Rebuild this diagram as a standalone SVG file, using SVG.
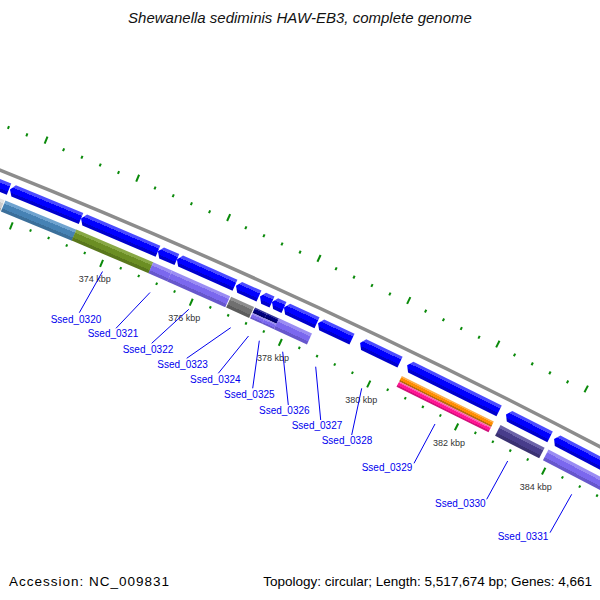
<svg xmlns="http://www.w3.org/2000/svg" xmlns:xlink="http://www.w3.org/1999/xlink" width="600" height="600" viewBox="0 0 600 600">
<style>
.cds{fill:url(#gBlue)}
.gl{font-family:"Liberation Sans",Arial,sans-serif;font-size:10px;fill:#0000ee}
.kb{font-family:"Liberation Sans",Arial,sans-serif;font-size:9px;fill:#333;text-anchor:middle}
.ticks{stroke:#0a8a0a;stroke-width:2;fill:none}
.conn line{stroke:#0000ee;stroke-width:1}
.info{font-family:"Liberation Sans",Arial,sans-serif;font-size:13.5px;fill:#000}
</style>
<defs>
<linearGradient id="gBlue" x1="0" y1="0" x2="0" y2="1"><stop offset="0" stop-color="#4a4aff"/><stop offset="0.28" stop-color="#4a4aff"/><stop offset="0.28" stop-color="#0000ff"/><stop offset="0.72" stop-color="#0000ff"/><stop offset="0.72" stop-color="#0000cc"/><stop offset="1" stop-color="#0000cc"/></linearGradient>
<linearGradient id="gLGray" x1="0" y1="0" x2="0" y2="1"><stop offset="0" stop-color="#e4e4e4"/><stop offset="0.28" stop-color="#e4e4e4"/><stop offset="0.28" stop-color="#cccccc"/><stop offset="0.72" stop-color="#cccccc"/><stop offset="0.72" stop-color="#aaaaaa"/><stop offset="1" stop-color="#aaaaaa"/></linearGradient>
<linearGradient id="gSteel" x1="0" y1="0" x2="0" y2="1"><stop offset="0" stop-color="#6fa3cf"/><stop offset="0.28" stop-color="#6fa3cf"/><stop offset="0.28" stop-color="#4682b4"/><stop offset="0.72" stop-color="#4682b4"/><stop offset="0.72" stop-color="#3b6f9a"/><stop offset="1" stop-color="#3b6f9a"/></linearGradient>
<linearGradient id="gOlive" x1="0" y1="0" x2="0" y2="1"><stop offset="0" stop-color="#88a845"/><stop offset="0.28" stop-color="#88a845"/><stop offset="0.28" stop-color="#6b8e23"/><stop offset="0.72" stop-color="#6b8e23"/><stop offset="0.72" stop-color="#59771c"/><stop offset="1" stop-color="#59771c"/></linearGradient>
<linearGradient id="gPurple" x1="0" y1="0" x2="0" y2="1"><stop offset="0" stop-color="#9a8cf3"/><stop offset="0.28" stop-color="#9a8cf3"/><stop offset="0.28" stop-color="#7b68ee"/><stop offset="0.72" stop-color="#7b68ee"/><stop offset="0.72" stop-color="#6757cc"/><stop offset="1" stop-color="#6757cc"/></linearGradient>
<linearGradient id="gGray" x1="0" y1="0" x2="0" y2="1"><stop offset="0" stop-color="#8e8e8e"/><stop offset="0.28" stop-color="#8e8e8e"/><stop offset="0.28" stop-color="#707070"/><stop offset="0.72" stop-color="#707070"/><stop offset="0.72" stop-color="#5c5c5c"/><stop offset="1" stop-color="#5c5c5c"/></linearGradient>
<linearGradient id="gNavy" x1="0" y1="0" x2="0" y2="1"><stop offset="0" stop-color="#34349c"/><stop offset="0.28" stop-color="#34349c"/><stop offset="0.28" stop-color="#000080"/><stop offset="0.72" stop-color="#000080"/><stop offset="0.72" stop-color="#000066"/><stop offset="1" stop-color="#000066"/></linearGradient>
<linearGradient id="gOrange" x1="0" y1="0" x2="0" y2="1"><stop offset="0" stop-color="#ffad45"/><stop offset="0.28" stop-color="#ffad45"/><stop offset="0.28" stop-color="#ff8c00"/><stop offset="0.72" stop-color="#ff8c00"/><stop offset="0.72" stop-color="#b86a10"/><stop offset="1" stop-color="#b86a10"/></linearGradient>
<linearGradient id="gPink" x1="0" y1="0" x2="0" y2="1"><stop offset="0" stop-color="#ff5ab2"/><stop offset="0.28" stop-color="#ff5ab2"/><stop offset="0.28" stop-color="#ff1493"/><stop offset="0.72" stop-color="#ff1493"/><stop offset="0.72" stop-color="#d0107a"/><stop offset="1" stop-color="#d0107a"/></linearGradient>
<linearGradient id="gDSlate" x1="0" y1="0" x2="0" y2="1"><stop offset="0" stop-color="#6c63a8"/><stop offset="0.28" stop-color="#6c63a8"/><stop offset="0.28" stop-color="#483d8b"/><stop offset="0.72" stop-color="#483d8b"/><stop offset="0.72" stop-color="#3a3172"/><stop offset="1" stop-color="#3a3172"/></linearGradient>
<line id="tIn" x1="0" y1="-6367" x2="0" y2="-6364.5"/>
<line id="TIn" x1="0" y1="-6366.5" x2="0" y2="-6359"/>
<line id="tOut" x1="0" y1="-6451.5" x2="0" y2="-6454.5"/>
<line id="TOut" x1="0" y1="-6451.5" x2="0" y2="-6459"/>
</defs>
<rect width="600" height="600" fill="#fff"/>
<text x="300" y="22.5" text-anchor="middle" font-family="Liberation Sans, Arial, sans-serif" font-style="italic" font-size="15" fill="#111">Shewanella sediminis HAW-EB3, complete genome</text>

<g id="ticks" class="ticks" transform="translate(-2381.5 6121.6)">
<use xlink:href="#tOut" transform="rotate(21.738)"/><use xlink:href="#tOut" transform="rotate(21.914)"/><use xlink:href="#TOut" transform="rotate(22.090)"/><use xlink:href="#tOut" transform="rotate(22.266)"/><use xlink:href="#tOut" transform="rotate(22.442)"/><use xlink:href="#tOut" transform="rotate(22.618)"/><use xlink:href="#tOut" transform="rotate(22.794)"/><use xlink:href="#TOut" transform="rotate(22.970)"/><use xlink:href="#tOut" transform="rotate(23.146)"/><use xlink:href="#tOut" transform="rotate(23.322)"/><use xlink:href="#tOut" transform="rotate(23.498)"/><use xlink:href="#tOut" transform="rotate(23.674)"/><use xlink:href="#TOut" transform="rotate(23.850)"/><use xlink:href="#tOut" transform="rotate(24.026)"/><use xlink:href="#tOut" transform="rotate(24.202)"/><use xlink:href="#tOut" transform="rotate(24.378)"/><use xlink:href="#tOut" transform="rotate(24.554)"/><use xlink:href="#TOut" transform="rotate(24.730)"/><use xlink:href="#tOut" transform="rotate(24.906)"/><use xlink:href="#tOut" transform="rotate(25.082)"/><use xlink:href="#tOut" transform="rotate(25.258)"/><use xlink:href="#tOut" transform="rotate(25.434)"/><use xlink:href="#TOut" transform="rotate(25.610)"/><use xlink:href="#tOut" transform="rotate(25.786)"/><use xlink:href="#tOut" transform="rotate(25.962)"/><use xlink:href="#tOut" transform="rotate(26.138)"/><use xlink:href="#tOut" transform="rotate(26.314)"/><use xlink:href="#TOut" transform="rotate(26.490)"/><use xlink:href="#tOut" transform="rotate(26.666)"/><use xlink:href="#tOut" transform="rotate(26.842)"/><use xlink:href="#tOut" transform="rotate(27.018)"/><use xlink:href="#tOut" transform="rotate(27.194)"/><use xlink:href="#TOut" transform="rotate(27.370)"/>
<use xlink:href="#TIn" transform="rotate(22.090)"/><use xlink:href="#tIn" transform="rotate(22.266)"/><use xlink:href="#tIn" transform="rotate(22.442)"/><use xlink:href="#tIn" transform="rotate(22.618)"/><use xlink:href="#tIn" transform="rotate(22.794)"/><use xlink:href="#TIn" transform="rotate(22.970)"/><use xlink:href="#tIn" transform="rotate(23.146)"/><use xlink:href="#tIn" transform="rotate(23.322)"/><use xlink:href="#tIn" transform="rotate(23.498)"/><use xlink:href="#tIn" transform="rotate(23.674)"/><use xlink:href="#TIn" transform="rotate(23.850)"/><use xlink:href="#tIn" transform="rotate(24.026)"/><use xlink:href="#tIn" transform="rotate(24.202)"/><use xlink:href="#tIn" transform="rotate(24.378)"/><use xlink:href="#tIn" transform="rotate(24.554)"/><use xlink:href="#TIn" transform="rotate(24.730)"/><use xlink:href="#tIn" transform="rotate(24.906)"/><use xlink:href="#tIn" transform="rotate(25.082)"/><use xlink:href="#tIn" transform="rotate(25.258)"/><use xlink:href="#tIn" transform="rotate(25.434)"/><use xlink:href="#TIn" transform="rotate(25.610)"/><use xlink:href="#tIn" transform="rotate(25.786)"/><use xlink:href="#tIn" transform="rotate(25.962)"/><use xlink:href="#tIn" transform="rotate(26.138)"/><use xlink:href="#tIn" transform="rotate(26.314)"/><use xlink:href="#TIn" transform="rotate(26.490)"/><use xlink:href="#tIn" transform="rotate(26.666)"/><use xlink:href="#tIn" transform="rotate(26.842)"/><use xlink:href="#tIn" transform="rotate(27.018)"/><use xlink:href="#tIn" transform="rotate(27.194)"/><use xlink:href="#TIn" transform="rotate(27.370)"/><use xlink:href="#tIn" transform="rotate(27.546)"/><use xlink:href="#tIn" transform="rotate(27.722)"/><use xlink:href="#tIn" transform="rotate(27.898)"/>
</g>

<g id="tick-labels" class="kb">
<text x="94.8" y="282.4">374 kbp</text>
<text x="184.3" y="321.2">376 kbp</text>
<text x="273.1" y="361.2">378 kbp</text>
<text x="361.3" y="402.7">380 kbp</text>
<text x="448.9" y="445.5">382 kbp</text>
<text x="535.8" y="489.6">384 kbp</text>
</g>

<circle id="backbone" cx="-2381.5" cy="6121.6" r="6410.3" fill="none" stroke="#8c8c8c" stroke-width="3.5"/>

<g id="ssed_0318"><g transform="translate(-2381.5 6121.6) rotate(21.7235)">
<path class="cds" d="M-24.95 -6396 L-20.95 -6402 H24.95 V-6390 H-20.95 Z"/>
<rect x="-24.95" y="-6384" width="49.9" height="12" fill="url(#gLGray)"/></g></g>

<g id="ssed_0319"><g transform="translate(-2381.5 6121.6) rotate(22.300)">
<path class="cds" d="M-38.4 -6396 L-34.4 -6402 H38.4 V-6390 H-34.4 Z"/>
<rect x="-38.4" y="-6384" width="76.8" height="12" fill="url(#gSteel)"/></g></g>

<g id="ssed_0320"><g transform="translate(-2381.5 6121.6) rotate(23.0185)">
<path class="cds" d="M-41.8 -6396 L-37.8 -6402 H41.8 V-6390 H-37.8 Z"/>
<rect x="-41.8" y="-6384" width="83.6" height="12" fill="url(#gOlive)"/></g>
<text class="gl" x="50.7" y="322.5">Ssed_0320</text></g>

<g id="ssed_0321"><g transform="translate(-2381.5 6121.6) rotate(23.4855)">
<path class="cds" d="M-10.33 -6396 L-6.33 -6402 H10.33 V-6390 H-6.33 Z"/>
<rect x="-10.33" y="-6384" width="20.66" height="12" fill="url(#gPurple)"/></g>
<text class="gl" x="87.7" y="336.5">Ssed_0321</text></g>

<g id="ssed_0322"><g transform="translate(-2381.5 6121.6) rotate(23.8625)">
<path class="cds" d="M-31.75 -6396 L-27.75 -6402 H31.75 V-6390 H-27.75 Z"/>
<rect x="-31.75" y="-6384" width="63.5" height="12" fill="url(#gPurple)"/></g>
<text class="gl" x="122.7" y="352.5">Ssed_0322</text></g>

<g id="ssed_0323"><g transform="translate(-2381.5 6121.6) rotate(24.270)">
<path class="cds" d="M-12.6 -6396 L-8.6 -6402 H12.6 V-6390 H-8.6 Z"/>
<rect x="-12.6" y="-6384" width="25.2" height="12" fill="url(#gGray)"/></g>
<text class="gl" x="157.3" y="368.2">Ssed_0323</text></g>

<g id="ssed_0324"><g transform="translate(-2381.5 6121.6) rotate(24.452)">
<path class="cds" d="M-6.6 -6396 L-2.6 -6402 H6.6 V-6390 H-2.6 Z"/>
<rect x="-6.6" y="-6384" width="13.2" height="6" fill="url(#gNavy)"/>
<rect x="-6.6" y="-6378" width="13.2" height="6" fill="url(#gPurple)"/></g>
<text class="gl" x="190" y="382.5">Ssed_0324</text></g>

<g id="ssed_0325"><g transform="translate(-2381.5 6121.6) rotate(24.570)">
<path class="cds" d="M-6.6 -6396 L-2.6 -6402 H6.6 V-6390 H-2.6 Z"/>
<rect x="-6.6" y="-6384" width="13.2" height="6" fill="url(#gNavy)"/>
<rect x="-6.6" y="-6378" width="13.2" height="6" fill="url(#gPurple)"/></g>
<text class="gl" x="224" y="398.2">Ssed_0325</text></g>

<g id="ssed_0326"><g transform="translate(-2381.5 6121.6) rotate(24.792)">
<path class="cds" d="M-18.2 -6396 L-14.2 -6402 H18.2 V-6390 H-14.2 Z"/>
<rect x="-18.2" y="-6384" width="36.4" height="12" fill="url(#gPurple)"/></g>
<text class="gl" x="259" y="414.2">Ssed_0326</text></g>

<g id="ssed_0327"><g transform="translate(-2381.5 6121.6) rotate(25.133)">
<path class="cds" d="M-18.75 -6396 L-14.75 -6402 H18.75 V-6390 H-14.75 Z"/></g>
<text class="gl" x="291.7" y="429.2">Ssed_0327</text></g>

<g id="ssed_0328"><g transform="translate(-2381.5 6121.6) rotate(25.5795)">
<path class="cds" d="M-22.15 -6396 L-18.15 -6402 H22.15 V-6390 H-18.15 Z"/></g>
<text class="gl" x="321.7" y="444.2">Ssed_0328</text></g>

<g id="ssed_0329"><g transform="translate(-2381.5 6121.6) rotate(26.3075)">
<path class="cds" d="M-51.3 -6396 L-47.3 -6402 H51.3 V-6390 H-47.3 Z"/>
<rect x="-51.3" y="-6384" width="102.6" height="6" fill="url(#gOrange)"/>
<rect x="-51.3" y="-6378" width="102.6" height="6" fill="url(#gPink)"/></g>
<text class="gl" x="361.7" y="470.8">Ssed_0329</text></g>

<g id="ssed_0330"><g transform="translate(-2381.5 6121.6) rotate(27.0585)">
<path class="cds" d="M-24.75 -6396 L-20.75 -6402 H24.75 V-6390 H-20.75 Z"/>
<rect x="-24.75" y="-6384" width="49.5" height="12" fill="url(#gDSlate)"/></g>
<text class="gl" x="435" y="506.8">Ssed_0330</text></g>

<g id="ssed_0331"><g transform="translate(-2381.5 6121.6) rotate(27.690)">
<path class="cds" d="M-41.3 -6396 L-37.3 -6402 H41.3 V-6390 H-37.3 Z"/>
<rect x="-41.3" y="-6384" width="82.6" height="12" fill="url(#gPurple)"/></g>
<text class="gl" x="497.7" y="540.2">Ssed_0331</text></g>

<g id="connectors" class="conn">
<line x1="79.3" y1="312.7" x2="102.5" y2="271.5"/>
<line x1="116" y1="328.3" x2="150" y2="292.5"/>
<line x1="151.7" y1="343.3" x2="188.8" y2="309.3"/>
<line x1="186.7" y1="358.3" x2="230.7" y2="327.7"/>
<line x1="218.3" y1="373.3" x2="248.5" y2="336"/>
<line x1="252.7" y1="388.3" x2="259.3" y2="340.7"/>
<line x1="288.3" y1="405" x2="282.7" y2="351.7"/>
<line x1="320.7" y1="420" x2="315.7" y2="366.7"/>
<line x1="351.7" y1="435" x2="361.7" y2="388.3"/>
<line x1="414" y1="463.3" x2="435" y2="424"/>
<line x1="486.7" y1="499.3" x2="507.7" y2="461"/>
<line x1="550" y1="532.7" x2="571.7" y2="494.3"/>
</g>

<text class="info" x="9" y="586" textLength="160" lengthAdjust="spacing">Accession: NC_009831</text>
<text class="info" x="592" y="586" text-anchor="end">Topology: circular; Length: 5,517,674 bp; Genes: 4,661</text>
</svg>
